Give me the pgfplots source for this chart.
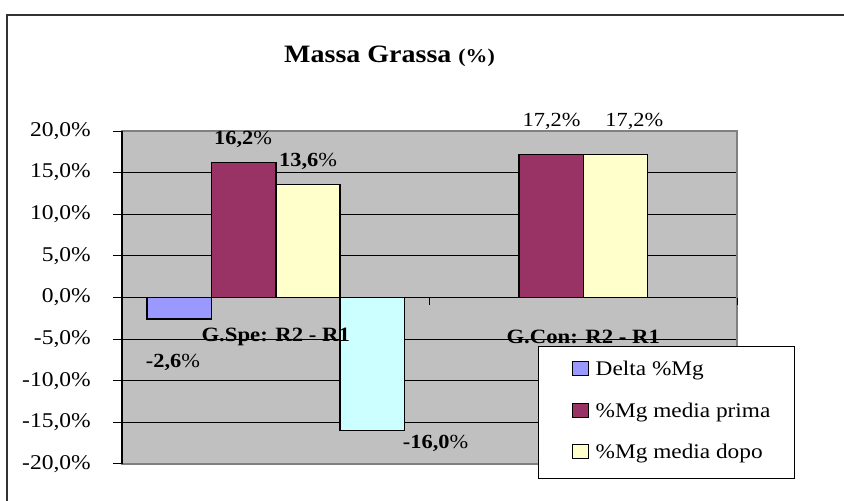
\documentclass[border=0pt]{standalone}
\usepackage{fontspec}
\setmainfont{Liberation Serif}[FakeStretch=1.12]
\usepackage{pgfplots}
\pgfplotsset{compat=1.18}
\definecolor{cDelta}{RGB}{153,153,255}
\definecolor{cPrima}{RGB}{153,51,102}
\definecolor{cDopo}{RGB}{255,255,204}
\definecolor{cCyan}{RGB}{204,255,255}
\definecolor{plotgray}{RGB}{192,192,192}
\definecolor{bordergray}{RGB}{128,128,128}
\newcommand{\fs}[1]{\fontsize{#1}{#1}\selectfont}
\begin{document}
\begin{tikzpicture}[x=1pt,y=1pt]
\useasboundingbox (0,0) rectangle (844,501);
\draw[line width=1.5pt, black!80] (7,-5) -- (7,486) -- (850,486);
\node[anchor=base west, inner sep=0pt] at (284,438) {\fs{25}\bfseries Massa Grassa \fs{19.5}(\%)};
\begin{axis}[
  at={(122pt,37pt)}, anchor=south west,
  width=615pt, height=333pt, scale only axis,
  clip=false,
  xmin=-0.5, xmax=1.5, ymin=-20, ymax=20,
  axis background/.style={fill=plotgray},
  axis line style={draw=bordergray, line width=1.5pt},
  xtick=\empty,
  ytick={-20,-15,...,20},
  yticklabels={{-20,0\%},{-15,0\%},{-10,0\%},{-5,0\%},{0,0\%},{5,0\%},{10,0\%},{15,0\%},{20,0\%}},
  ytick pos=left,
  tick align=outside,
  major tick length=9pt,
  tick style={black, line width=1pt},
  ymajorgrids,
  grid style={black, line width=1pt},
  yticklabel style={font=\fs{21}, anchor=east, inner sep=0pt},
  yticklabel shift=22pt,
  bar width=64.3pt,
  legend image code/.code={\path (0pt,0pt); \draw[#1, line width=1pt] (9pt,0pt) rectangle (25pt,14pt);},
  legend style={at={(0.6764,-0.045)}, anchor=south west, draw=black, line width=1pt, fill=white,
    inner xsep=24pt, inner ysep=14.5pt, row sep=22pt, column sep=7pt, font=\fs{20.8},
    cells={anchor=base west}, nodes={inner sep=0pt, text height=14pt, text depth=5pt}},
]
\addplot[ybar, bar shift=-96.45pt, fill=cDelta, draw=black, line width=1.5pt] coordinates {(0,-2.6)};
\addplot[ybar, bar shift=-32.15pt, fill=cPrima, draw=black, line width=1.5pt] coordinates {(0,16.2) (1,17.2)};
\addplot[ybar, bar shift=32.15pt, fill=cDopo, draw=black, line width=1.5pt] coordinates {(0,13.6) (1,17.2)};
\addplot[ybar, bar shift=96.45pt, fill=cCyan, draw=black, line width=1.5pt] coordinates {(0,-16.0)};
\legend{Delta \%Mg, \%Mg media prima, \%Mg media dopo}
\draw[black, line width=1.5pt] (rel axis cs:0,0) -- (rel axis cs:0,1);
\draw[black, line width=1pt] (axis cs:-0.5,0) -- ++(0pt,-7pt);
\draw[black, line width=1pt] (axis cs:0.5,0) -- ++(0pt,-7pt);
\draw[black, line width=1pt] (axis cs:1.5,0) -- ++(0pt,-7pt);
\node[font=\fs{20}] at (axis cs:-0.106,19.04) {\textbf{16,2}\%};
\node[font=\fs{20}] at (axis cs:0.105,16.4) {\textbf{13,6}\%};
\node[font=\fs{20}] at (axis cs:-0.334,-7.75) {\textbf{-2,6}\%};
\node[font=\fs{20}] at (axis cs:0.520,-17.5) {\textbf{-16,0}\%};
\node[font=\fs{20}] at (axis cs:0.897,21.2) {17,2\%};
\node[font=\fs{20}] at (axis cs:1.166,21.2) {17,2\%};
\node[font=\fs{20.3}\bfseries] at (axis cs:0,-4.745) {G.Spe: R2 - R1};
\node[font=\fs{20.3}\bfseries] at (axis cs:1,-4.745) {G.Con: R2 - R1};
\end{axis}
\end{tikzpicture}
\end{document}
